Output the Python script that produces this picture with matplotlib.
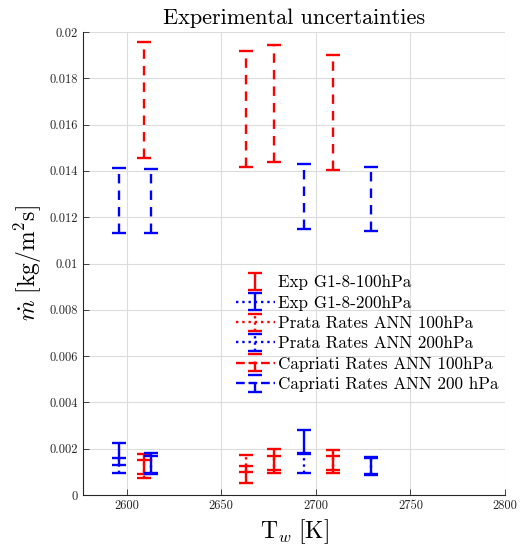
import matplotlib
matplotlib.use("Agg")
import matplotlib.pyplot as plt
import numpy as np

# ---- data ----
T_100 = [2609, 2663, 2678, 2709]
T_200 = [2596, 2613, 2694, 2729]

exp100_lo = [0.00090, 0.00050, 0.00110, 0.00110]
exp100_hi = [0.00175, 0.00125, 0.00197, 0.00195]
exp200_lo = [0.00130, 0.00095, 0.00180, 0.00085]
exp200_hi = [0.00226, 0.00180, 0.00281, 0.00160]

prata100_lo = [0.00075, 0.00100, 0.00095, 0.00095]
prata100_hi = [0.00150, 0.00172, 0.00170, 0.00170]
prata200_lo = [0.00095, 0.00090, 0.00095, 0.00090]
prata200_hi = [0.00160, 0.00170, 0.00175, 0.00165]

cap100_lo = [0.01457, 0.01418, 0.01439, 0.01403]
cap100_hi = [0.01958, 0.01918, 0.01943, 0.01901]
cap200_lo = [0.01130, 0.01130, 0.01148, 0.01140]
cap200_hi = [0.01414, 0.01410, 0.01428, 0.01418]

labels = ["Exp G1-8-100hPa", "Exp G1-8-200hPa", "Prata Rates ANN 100hPa",
          "Prata Rates ANN 200hPa", "Capriati Rates ANN 100hPa",
          "Capriati Rates ANN 200 hPa"]

xticks = [2600, 2650, 2700, 2750, 2800]
yticks = [0, 0.002, 0.004, 0.006, 0.008, 0.01, 0.012, 0.014, 0.016, 0.018, 0.02]
ytick_labels = ["0", "0.002", "0.004", "0.006", "0.008", "0.01", "0.012",
                "0.014", "0.016", "0.018", "0.02"]

plt.rcParams['font.family'] = 'serif'
plt.rcParams['font.serif'] = ['cmr10', 'DejaVu Serif']
plt.rcParams['mathtext.fontset'] = 'cm'
plt.rcParams['axes.formatter.use_mathtext'] = True

fig = plt.figure(figsize=(5.27, 5.51), dpi=100)
ax = fig.add_axes([83/527, 1-495/551, (505-83)/527, (495-32)/551])

def eb(T, lo, hi, color, fmt, bar_ls, zo):
    lo = np.array(lo); hi = np.array(hi)
    mid = (lo + hi) / 2
    err = (hi - lo) / 2
    c = ax.errorbar(T, mid, yerr=err, fmt=fmt, color=color, ecolor=color,
                    elinewidth=1.7, capsize=5, capthick=1.7, lw=1.7, zorder=zo)
    if bar_ls == '--':
        c[2][0].set_linestyle((0, (4, 3)))
    else:
        c[2][0].set_linestyle(bar_ls)
    return c

handles = []
handles.append(eb(T_100, exp100_lo, exp100_hi, 'red', 'none', '-', 3))
handles.append(eb(T_200, exp200_lo, exp200_hi, 'blue', ':', '-', 3))
handles.append(eb(T_100, prata100_lo, prata100_hi, 'red', ':', ':', 4))
handles.append(eb(T_200, prata200_lo, prata200_hi, 'blue', ':', ':', 4))
handles.append(eb(T_100, cap100_lo, cap100_hi, 'red', '--', '--', 3))
handles.append(eb(T_200, cap200_lo, cap200_hi, 'blue', '--', '--', 3))

leg = ax.legend(handles, labels, loc='upper left',
                bbox_to_anchor=(229/527, 1-268/551), bbox_transform=fig.transFigure,
                frameon=False, fontsize=12.3, handlelength=2.3, handletextpad=0.15,
                labelspacing=0.3, borderaxespad=0)

# hide connecting lines in the plot (legend keeps the styles)
for h in handles:
    if h[0] is not None:
        h[0].set_linestyle('none')

ax.set_xlim(2577, 2800)
ax.set_ylim(0, 0.02)
ax.set_xticks(xticks)
ax.set_xticklabels([str(t) for t in xticks])
ax.set_yticks(yticks)
ax.set_yticklabels(ytick_labels)
ax.tick_params(direction='in', labelsize=9, length=4, width=0.6, colors='#262626')
ax.grid(True, color='#dcdcdc', lw=0.8)
ax.set_axisbelow(True)
for s in ['top', 'right']:
    ax.spines[s].set_visible(False)
for s in ['left', 'bottom']:
    ax.spines[s].set_color('#262626')
    ax.spines[s].set_linewidth(0.8)

ax.set_title('Experimental uncertainties', fontsize=16, pad=6)
ax.set_xlabel(r'$\mathrm{T}_w\ [\mathrm{K}]$', fontsize=17, labelpad=4)
ax.set_ylabel(r'$\dot{m}\ [\mathrm{kg/m^2s}]$', fontsize=17, labelpad=4)

fig.savefig('out.png', dpi=100)
